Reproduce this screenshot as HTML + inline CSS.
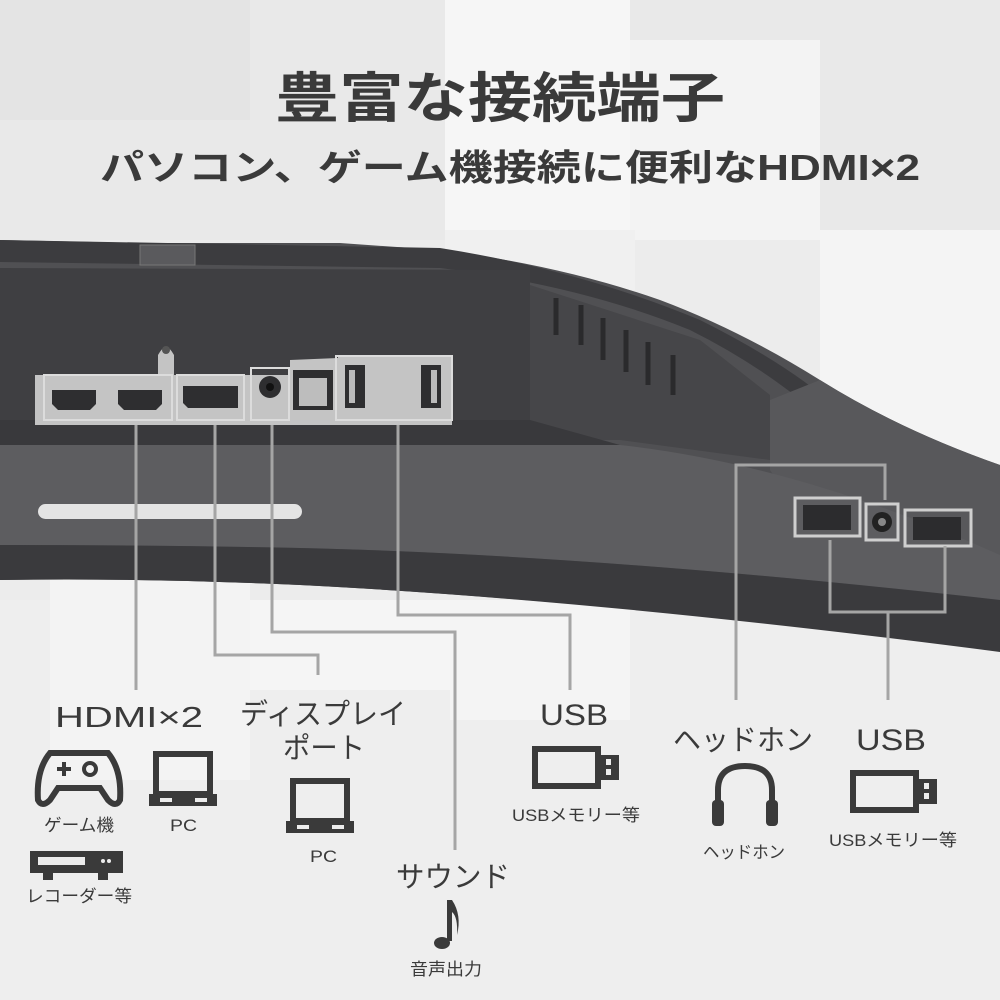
<!DOCTYPE html>
<html><head><meta charset="utf-8"><style>
html,body{margin:0;padding:0;width:1000px;height:1000px;overflow:hidden;background:#ededed}
svg{display:block}
text{font-family:"Liberation Sans","Noto Sans CJK JP",sans-serif;fill:#3a3a3a}
</style></head><body>
<svg width="1000" height="1000" viewBox="0 0 1000 1000" xmlns="http://www.w3.org/2000/svg">
<!-- background -->
<rect width="1000" height="1000" fill="#ececec"/>
<rect x="0" y="0" width="1000" height="240" fill="#e9e9e9"/>
<rect x="445" y="0" width="185" height="240" fill="#f6f6f6"/>
<rect x="630" y="40" width="190" height="200" fill="#f3f3f3"/>
<rect x="0" y="0" width="250" height="120" fill="#e4e4e4"/>
<rect x="820" y="230" width="180" height="250" fill="#f4f4f4"/>
<rect x="445" y="230" width="190" height="60" fill="#f0f0f0"/>
<rect x="0" y="600" width="1000" height="400" fill="#eeeeee"/>
<rect x="50" y="580" width="200" height="200" fill="#f3f3f3"/>
<rect x="250" y="600" width="200" height="90" fill="#f5f5f5"/>
<rect x="450" y="600" width="180" height="120" fill="#f4f4f4"/>

<!-- monitor body -->
<path d="M0,240 L140,243 L340,243 L440,250 Q560,265 660,300 Q740,330 820,380 Q900,430 1000,465 L1000,650 Q600,600 300,585 Q150,578 0,580 Z" fill="#505053"/>
<!-- top ridge -->
<path d="M0,240 L440,248 Q580,270 700,320 Q800,370 850,420 L830,425 Q770,370 690,330 Q580,285 440,268 L0,262 Z" fill="#3c3c3f"/>
<!-- recess interior -->
<path d="M0,268 L530,270 L530,440 L0,440 Z" fill="#3f3f42"/>
<path d="M530,285 L700,340 L770,395 L770,460 L620,440 L530,440 Z" fill="#464649"/>
<path d="M0,420 L530,420 L620,445 L0,445 Z" fill="#39393c"/>
<!-- vents -->
<g stroke="#2a2a2c" stroke-width="5">
<line x1="556" y1="298" x2="556" y2="335"/><line x1="581" y1="305" x2="581" y2="345"/><line x1="603" y1="318" x2="603" y2="360"/><line x1="626" y1="330" x2="626" y2="372"/><line x1="648" y1="342" x2="648" y2="385"/><line x1="673" y1="355" x2="673" y2="395"/>
</g>
<!-- right shell lighter -->
<path d="M820,380 Q900,430 1000,465 L1000,650 L880,630 L770,470 L770,400 Z" fill="#58585b"/>
<!-- lower band -->
<path d="M0,445 L620,445 Q800,465 1000,555 L1000,600 Q600,555 300,548 Q150,545 0,545 Z" fill="#5d5d60"/>
<!-- bottom dark bezel -->
<path d="M0,545 Q150,545 300,548 Q600,555 1000,600 L1000,652 Q600,600 300,585 Q150,578 0,580 Z" fill="#3a3a3d"/>
<!-- light bar -->
<rect x="38" y="504" width="264" height="15" rx="7.5" fill="#e4e4e4"/>
<!-- top button -->
<rect x="140" y="245" width="55" height="20" fill="#5a5a5d" stroke="#777" stroke-width="1"/>

<!-- port panel -->
<path d="M35,375 L158,375 L158,355 Q166,340 174,355 L174,375 L290,375 L290,360 L338,358 L338,356 L452,356 L452,425 L35,425 Z" fill="#c4c4c4"/>
<g fill="none" stroke="#dcdcdc" stroke-width="2">
<rect x="44" y="375" width="128" height="45"/><rect x="177" y="375" width="67" height="45"/><rect x="251" y="368" width="38" height="52"/><rect x="336" y="356" width="116" height="64"/>
</g>
<g fill="#2e2e30">
<path d="M52,390 L96,390 L96,404 L90,410 L58,410 L52,404 Z"/>
<path d="M118,390 L162,390 L162,404 L156,410 L124,410 L118,404 Z"/>
<path d="M183,386 L238,386 L238,408 L188,408 L183,403 Z"/>
<circle cx="270" cy="387" r="11"/>
<rect x="293" y="370" width="40" height="40"/>
<rect x="345" y="365" width="20" height="43"/><rect x="421" y="365" width="20" height="43"/>
</g>
<circle cx="270" cy="387" r="4" fill="#111"/>
<rect x="299" y="378" width="28" height="28" fill="#bdbdbd"/>
<rect x="349" y="370" width="6" height="33" fill="#bbb"/><rect x="431" y="370" width="6" height="33" fill="#bbb"/>
<circle cx="166" cy="350" r="4" fill="#555"/>

<!-- right ports -->
<g fill="none" stroke="#cfcfcf" stroke-width="3">
<rect x="795" y="498" width="65" height="38"/><rect x="866" y="504" width="32" height="36"/><rect x="905" y="510" width="66" height="36"/>
</g>
<rect x="803" y="505" width="48" height="25" fill="#2c2c2e"/><rect x="913" y="517" width="48" height="23" fill="#2c2c2e"/>
<circle cx="882" cy="522" r="10" fill="#222"/><circle cx="882" cy="522" r="4" fill="#888"/>

<!-- connector lines -->
<g fill="none" stroke="#a5a5a5" stroke-width="3">
<polyline points="136,425 136,690"/>
<polyline points="215,425 215,655 318,655 318,675"/>
<polyline points="272,425 272,632 455,632 455,850"/>
<polyline points="398,425 398,615 570,615 570,690"/>
<polyline points="736,700 736,465 885,465 885,500"/>
<polyline points="830,540 830,612 945,612 945,546"/>
<polyline points="888,612 888,700"/>
</g>

<!-- titles -->
<text x="500" y="117" font-size="54" font-weight="bold" text-anchor="middle" textLength="450" lengthAdjust="spacingAndGlyphs" fill="#3c3c3c">豊富な接続端子</text>
<text x="510" y="180" font-size="36" font-weight="bold" text-anchor="middle" textLength="820" lengthAdjust="spacingAndGlyphs" fill="#3c3c3c">パソコン、ゲーム機接続に便利なHDMI×2</text>

<!-- labels -->
<text x="55" y="727" font-size="29" textLength="148" lengthAdjust="spacingAndGlyphs">HDMI×2</text>
<text x="240" y="724" font-size="29" textLength="166" lengthAdjust="spacingAndGlyphs">ディスプレイ</text>
<text x="283" y="758" font-size="29" textLength="82" lengthAdjust="spacingAndGlyphs">ポート</text>
<text x="540" y="725" font-size="30" textLength="68" lengthAdjust="spacingAndGlyphs">USB</text>
<text x="673" y="750" font-size="29" textLength="140" lengthAdjust="spacingAndGlyphs">ヘッドホン</text>
<text x="856" y="750" font-size="30" textLength="70" lengthAdjust="spacingAndGlyphs">USB</text>
<text x="396" y="887" font-size="29" textLength="114" lengthAdjust="spacingAndGlyphs">サウンド</text>

<text x="44" y="831" font-size="17" textLength="70" lengthAdjust="spacingAndGlyphs">ゲーム機</text>
<text x="170" y="831" font-size="17" textLength="27" lengthAdjust="spacingAndGlyphs">PC</text>
<text x="26" y="902" font-size="17" textLength="106" lengthAdjust="spacingAndGlyphs">レコーダー等</text>
<text x="310" y="862" font-size="17" textLength="27" lengthAdjust="spacingAndGlyphs">PC</text>
<text x="512" y="821" font-size="17" textLength="128" lengthAdjust="spacingAndGlyphs">USBメモリー等</text>
<text x="703" y="858" font-size="17" textLength="82" lengthAdjust="spacingAndGlyphs">ヘッドホン</text>
<text x="829" y="846" font-size="17" textLength="128" lengthAdjust="spacingAndGlyphs">USBメモリー等</text>
<text x="410" y="975" font-size="17" textLength="72" lengthAdjust="spacingAndGlyphs">音声出力</text>

<!-- icons -->
<g fill="none" stroke="#3a3a3a" stroke-width="6">
<!-- gamepad -->
<path d="M50,753 L108,753 Q122,770 120,800 Q116,808 108,800 L100,788 L58,788 L50,800 Q42,808 38,800 Q36,770 50,753 Z"/>
<!-- laptops -->
<rect x="156" y="754" width="54" height="40"/>
<rect x="293" y="781" width="54" height="40"/>
<!-- usb sticks -->
<rect x="535" y="749" width="63" height="37"/>
<rect x="853" y="773" width="63" height="37"/>
<!-- headphone -->
<path d="M718,815 L718,790 Q718,766 745,766 Q772,766 772,790 L772,815"/>
</g>
<g fill="#3a3a3a">
<rect x="57" y="767" width="14" height="4"/><rect x="62" y="762" width="4" height="14"/>
<circle cx="90" cy="769" r="6" fill="none" stroke="#3a3a3a" stroke-width="4"/>
<rect x="149" y="794" width="68" height="12"/>
<rect x="286" y="821" width="68" height="12"/>
<rect x="599" y="755" width="20" height="25"/>
<rect x="917" y="779" width="20" height="25"/>
<rect x="30" y="851" width="93" height="22"/>
<rect x="43" y="873" width="10" height="7"/><rect x="98" y="873" width="10" height="7"/>
<rect x="712" y="800" width="12" height="26" rx="4"/><rect x="766" y="800" width="12" height="26" rx="4"/>
<ellipse cx="442" cy="943" rx="8" ry="6"/>
<path d="M447,941 L447,900 L452,900 Q462,915 457,935 Q458,917 452,912 L452,941 Z"/>
</g>
<g fill="#ececec">
<rect x="38" y="857" width="47" height="8"/>
<rect x="160" y="798" width="12" height="4"/><rect x="195" y="798" width="12" height="4"/>
<rect x="297" y="825" width="12" height="4"/><rect x="332" y="825" width="12" height="4"/>
<rect x="606" y="759" width="5" height="6"/><rect x="606" y="769" width="5" height="6"/>
<rect x="924" y="783" width="5" height="6"/><rect x="924" y="793" width="5" height="6"/>
<circle cx="103" cy="861" r="2"/><circle cx="109" cy="861" r="2"/>
</g>
</svg>
</body></html>
